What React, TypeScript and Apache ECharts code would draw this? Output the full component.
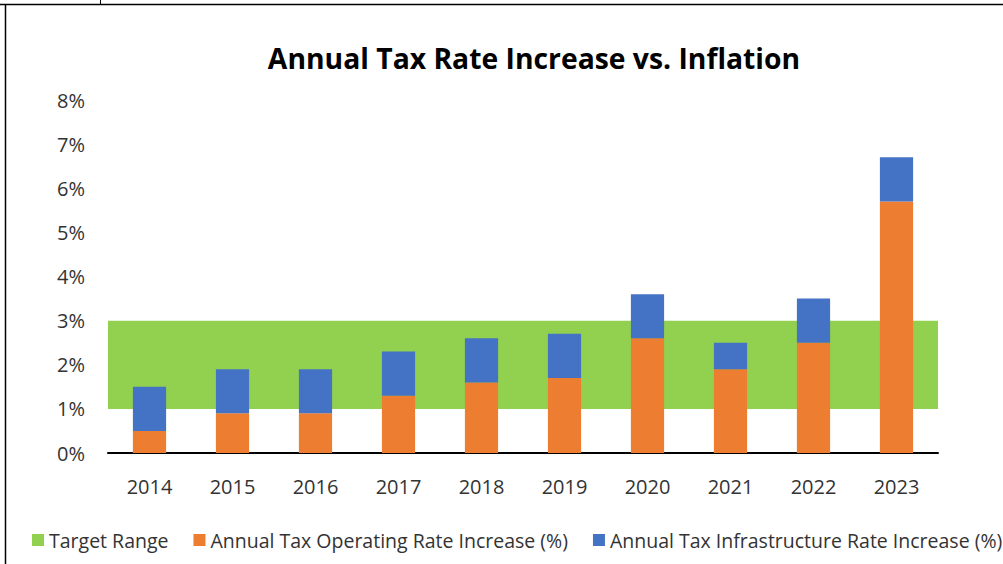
import React, { useEffect, useRef } from "react";
import * as echarts from "echarts";

const years = ["2014", "2015", "2016", "2017", "2018", "2019", "2020", "2021", "2022", "2023"];
const operating = [0.5, 0.9, 0.9, 1.3, 1.6, 1.7, 2.6, 1.9, 2.5, 5.7];
const infrastructure = [1.0, 1.0, 1.0, 1.0, 1.0, 1.0, 1.0, 0.6, 1.0, 1.0];
const targetLow = 1;
const targetHigh = 3;
const yTicks = [0, 1, 2, 3, 4, 5, 6, 7, 8];

export default function App() {
  const ref = useRef<HTMLDivElement>(null);
  useEffect(() => {
    document.body.style.margin = "0";
    const chart = echarts.init(ref.current!, undefined, { renderer: "svg" });
    const font = "'Open Sans', sans-serif";
    chart.setOption({
      animation: false,
      backgroundColor: "#fff",
      title: {
        text: "Annual Tax Rate Increase vs. Inflation",
        left: 529,
        textAlign: "center",
        top: 39,
        textStyle: { fontFamily: font, fontSize: 28.3, fontWeight: "bold", color: "#000" },
      },
      grid: { left: 108, right: 65, top: 100, bottom: 111, containLabel: false },
      legend: {
        left: 32,
        top: 530,
        padding: 0,
        itemWidth: 12,
        itemHeight: 12,
        itemGap: 25,
        icon: "rect",
        textStyle: { fontFamily: font, fontSize: 19.5, color: "#333" },
        data: ["Target Range", "Annual Tax Operating Rate Increase (%)", "Annual Tax Infrastructure Rate Increase (%)"],
      },
      xAxis: {
        type: "category",
        data: years,
        axisLine: { lineStyle: { color: "#000", width: 2 } },
        axisTick: { show: false },
        axisLabel: { fontFamily: font, fontSize: 20, color: "#333", margin: 23 },
      },
      yAxis: {
        type: "value",
        min: yTicks[0],
        max: yTicks[yTicks.length - 1],
        interval: 1,
        axisLine: { show: false },
        axisTick: { show: false },
        splitLine: { show: false },
        axisLabel: { fontFamily: font, fontSize: 20, color: "#333", margin: 23, formatter: (v: number) => v + "%" },
      },
      graphic: [
        { type: "line", shape: { x1: 0, y1: 4.5, x2: 1003, y2: 4.5 }, style: { stroke: "#000", lineWidth: 1.5 } },
        { type: "line", shape: { x1: 5.5, y1: 4, x2: 5.5, y2: 564 }, style: { stroke: "#000", lineWidth: 1.5 } },
        { type: "line", shape: { x1: 100.5, y1: 0, x2: 100.5, y2: 4 }, style: { stroke: "#000", lineWidth: 1 } },
      ],
      series: [
        {
          name: "Target Range",
          type: "bar",
          data: [],
          itemStyle: { color: "#92D050" },
          z: 1,
          markArea: {
            silent: true,
            itemStyle: { color: "#92D050" },
            data: [[{ yAxis: targetLow, x: 108 }, { yAxis: targetHigh, x: 938 }]],
          },
        },
        {
          name: "Annual Tax Operating Rate Increase (%)",
          type: "bar",
          stack: "tax",
          data: operating,
          barWidth: "40%",
          itemStyle: { color: "#ED7D31" },
          z: 3,
        },
        {
          name: "Annual Tax Infrastructure Rate Increase (%)",
          type: "bar",
          stack: "tax",
          data: infrastructure,
          barWidth: "40%",
          itemStyle: { color: "#4472C4" },
          z: 3,
        },
      ],
    });
    return () => chart.dispose();
  }, []);
  return <div ref={ref} style={{ position: "absolute", left: 0, top: 0, width: 1003, height: 564 }} />;
}
